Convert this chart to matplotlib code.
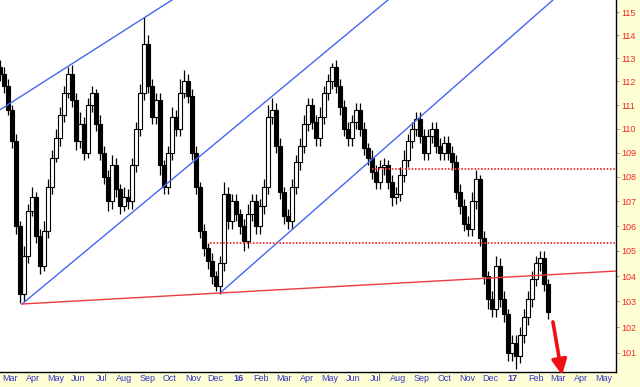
import numpy as np
import matplotlib
matplotlib.use('Agg')
import matplotlib.pyplot as plt
from matplotlib.ticker import FixedLocator, FixedFormatter, NullLocator

# ---------------- data ----------------
month_labels = ['Mar', 'Apr', 'May', 'Jun', 'Jul', 'Aug', 'Sep', 'Oct', 'Nov', 'Dec', '16',
                'Feb', 'Mar', 'Apr', 'May', 'Jun', 'Jul', 'Aug', 'Sep', 'Oct', 'Nov', 'Dec', '17',
                'Feb', 'Mar', 'Apr', 'May']
price_ticks = list(range(101, 116))

first_open = 112.6
closes = [112.3, 111.8, 110.8, 109.5, 106.0, 103.3, 104.8, 106.6, 107.2, 105.6,
          104.4, 105.8, 107.6, 108.8, 109.6, 110.6, 111.5, 112.3, 111.2, 109.5,
          110.2, 109.0, 111.0, 111.5, 110.2, 109.0, 108.0, 107.0, 108.5, 107.5,
          106.8, 107.2, 107.0, 108.5, 110.0, 111.5, 113.6, 111.8, 110.5, 111.2,
          108.5, 107.6, 109.0, 110.5, 110.0, 111.5, 112.0, 111.4, 109.0, 107.6,
          105.8, 105.1, 104.6, 104.0, 103.6, 104.5, 107.3, 106.2, 107.0, 106.5,
          106.0, 105.4, 106.5, 107.0, 106.0, 106.8, 107.6, 110.5, 110.8, 109.3,
          107.4, 106.4, 106.2, 107.6, 108.6, 109.3, 110.2, 111.0, 110.3, 109.6,
          110.5, 111.5, 112.0, 112.6, 111.8, 110.9, 110.0, 109.6, 110.3, 110.8,
          110.0, 109.2, 108.8, 108.2, 107.8, 108.4, 108.5, 107.8, 107.2, 107.3,
          108.1, 108.7, 109.5, 110.0, 110.4, 109.7, 109.0, 109.7, 110.0, 109.3,
          109.0, 109.4, 109.0, 108.6, 107.4, 106.8, 106.1, 105.9, 107.0, 107.9,
          105.5, 104.0, 103.1, 102.7, 104.4, 103.1, 102.5, 101.0, 101.4, 100.9,
          101.7, 102.4, 103.1, 103.9, 104.5, 104.7, 103.7, 102.6]
wick_up = [0.3, 0.3, 0.3, 0.2, 0.3, 0.2, 0.4, 0.3, 0.4, 0.2,
           0.3, 0.4, 0.3, 0.3, 0.4, 0.3, 0.3, 0.3, 0.4, 0.3,
           0.5, 0.3, 0.3, 0.3, 0.2, 0.4, 0.3, 0.3, 0.4, 0.3,
           0.2, 0.4, 0.3, 0.3, 0.3, 0.4, 1.2, 0.4, 0.3, 0.3,
           0.3, 0.2, 0.3, 0.4, 0.3, 0.6, 0.5, 0.3, 0.3, 0.3,
           0.2, 0.3, 0.2, 0.3, 0.2, 0.3, 0.5, 0.3, 0.3, 0.3,
           0.2, 0.3, 0.4, 0.3, 0.3, 0.3, 0.3, 0.5, 0.5, 0.3,
           0.3, 0.2, 0.3, 0.3, 0.3, 0.3, 0.4, 0.3, 0.3, 0.3,
           0.4, 0.3, 0.3, 0.2, 0.3, 0.3, 0.3, 0.3, 0.3, 0.3,
           0.3, 0.3, 0.2, 0.3, 0.3, 0.3, 0.3, 0.2, 0.3, 0.3,
           0.3, 0.4, 0.3, 0.3, 0.3, 0.3, 0.3, 0.3, 0.3, 0.3,
           0.3, 0.3, 0.3, 0.3, 0.3, 0.3, 0.3, 0.3, 0.4, 0.4,
           0.2, 0.3, 0.2, 0.3, 0.4, 0.3, 0.3, 0.2, 0.3, 0.3,
           0.3, 0.3, 0.3, 0.3, 0.3, 0.3, 0.3, 0.2]
wick_dn = [0.3, 0.3, 0.2, 0.3, 0.3, 0.35, 0.3, 0.3, 0.2, 0.3,
           0.3, 0.2, 0.3, 0.3, 0.2, 0.3, 0.3, 0.2, 0.3, 0.4,
           0.3, 0.3, 0.2, 0.3, 0.3, 0.3, 0.3, 0.4, 0.3, 0.3,
           0.3, 0.2, 0.3, 0.3, 0.3, 0.3, 0.3, 0.3, 0.3, 0.3,
           0.4, 0.3, 0.3, 0.3, 0.3, 0.3, 0.2, 0.3, 0.3, 0.3,
           0.3, 0.3, 0.3, 0.3, 0.2, 0.3, 0.3, 0.3, 0.3, 0.3,
           0.3, 0.4, 0.3, 0.3, 0.3, 0.3, 0.3, 0.3, 0.3, 0.3,
           0.3, 0.3, 0.3, 0.3, 0.3, 0.3, 0.3, 0.3, 0.3, 0.3,
           0.3, 0.3, 0.3, 0.3, 0.3, 0.3, 0.3, 0.3, 0.3, 0.3,
           0.3, 0.3, 0.3, 0.3, 0.3, 0.3, 0.3, 0.3, 0.4, 0.3,
           0.3, 0.3, 0.3, 0.3, 0.3, 0.3, 0.3, 0.3, 0.3, 0.3,
           0.3, 0.3, 0.3, 0.3, 0.3, 0.3, 0.3, 0.3, 0.3, 0.3,
           0.3, 0.3, 0.4, 0.3, 0.3, 0.3, 0.3, 0.3, 0.3, 0.5,
           0.3, 0.3, 0.3, 0.3, 0.3, 0.3, 0.3, 0.3]

bar_start = -0.4376   # month position of first candle (0 = Mar 2015)
bar_step = 0.175      # months between candles

# annotation lines: (month, price) anchor points
blue_lines = [((-0.44, 110.8), (7.09, 115.53)),
              ((0.525, 102.90), (16.54, 115.53)),
              ((9.19, 103.33), (23.76, 115.53))]
red_line = ((0.525, 102.90), (26.52, 104.20))
dotted_levels = [(15.84, 108.33), (8.75, 105.33)]
arrow_from = (23.76, 102.2)
arrow_to = (24.16, 100.15)

# ---------------- figure ----------------
bg = '#FFFFD6'
fig = plt.figure(figsize=(6.4, 3.87), dpi=100, facecolor=bg)
ax = fig.add_axes([0, 15 / 387, 616 / 640, 372 / 387])
ax.set_facecolor('white')
ax.set_yscale('log')
ax.set_xlim(-0.4376, 26.52)
ax.set_ylim(100.27, 115.53)

n = len(closes)
xs = np.array([bar_start + i * bar_step for i in range(n)])
c = np.array(closes)
o = np.array([first_open] + closes[:-1])
hi = np.maximum(o, c) + np.array(wick_up)
lo = np.minimum(o, c) - np.array(wick_dn)
up = c >= o

ax.vlines(xs, lo, hi, color='black', lw=0.9, zorder=2)
w = 0.15
ax.bar(xs[up], (c - o)[up], bottom=o[up], width=w, color='white',
       edgecolor='black', linewidth=0.8, zorder=3)
ax.bar(xs[~up], (o - c)[~up], bottom=c[~up], width=w, color='black',
       edgecolor='black', linewidth=0.8, zorder=3)


def ext(p1, p2, x_end):
    (x1, y1), (x2, y2) = p1, p2
    ly = np.log(y1) + (np.log(y2) - np.log(y1)) * (x_end - x1) / (x2 - x1)
    return [x1, x_end], [y1, np.exp(ly)]


for p1, p2 in blue_lines:
    lx, ly = ext(p1, p2, p2[0] + 0.5)
    ax.plot(lx, ly, color='#4466F0', lw=1.0, zorder=4)

ax.plot([red_line[0][0], red_line[1][0]], [red_line[0][1], red_line[1][1]],
        color='#F03A3A', lw=1.0, zorder=4)
for x0, lvl in dotted_levels:
    ax.plot([x0, 26.52], [lvl, lvl], color='#F03A3A', lw=1.4,
            linestyle=(0, (0.8, 0.9)), zorder=4)

ax.annotate('', xy=arrow_to, xytext=arrow_from, annotation_clip=False,
            arrowprops=dict(arrowstyle='-|>,head_length=0.65,head_width=0.32',
                            color='#EE1111', lw=2.6, mutation_scale=14,
                            shrinkA=0, shrinkB=0, clip_on=False), zorder=6)

# axes styling
for s in ['left', 'top']:
    ax.spines[s].set_visible(False)
for s in ['right', 'bottom']:
    ax.spines[s].set_color('black')
    ax.spines[s].set_linewidth(1.0)

ax.yaxis.tick_right()
ax.yaxis.set_major_locator(FixedLocator(price_ticks))
ax.yaxis.set_major_formatter(FixedFormatter([str(t) for t in price_ticks]))
ax.yaxis.set_minor_locator(NullLocator())
ax.tick_params(axis='y', which='major', length=2.5, width=0.6, color='#888888',
               pad=1, labelsize=6.5, labelcolor='#F02828', direction='out')

ax.xaxis.set_major_locator(FixedLocator(list(range(len(month_labels)))))
ax.xaxis.set_major_formatter(FixedFormatter(month_labels))
ax.xaxis.set_minor_locator(NullLocator())
ax.tick_params(axis='x', which='major', length=0, pad=1.5, labelsize=6.5,
               labelcolor='#3535C8')
for lab in ax.get_xticklabels() + ax.get_yticklabels():
    lab.set_fontfamily('Liberation Sans')
for lab in ax.get_xticklabels():
    if lab.get_text() in ('16', '17'):
        lab.set_fontweight('bold')

fig.savefig('out.png', dpi=100, facecolor=bg)
